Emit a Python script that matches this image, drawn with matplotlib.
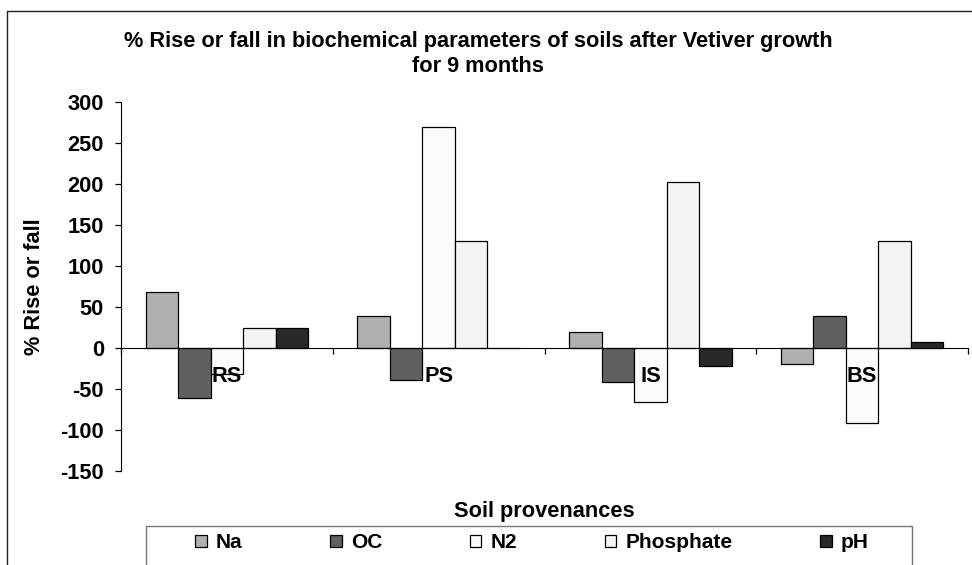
import matplotlib

matplotlib.use("Agg")
import matplotlib.pyplot as plt
import numpy as np
from matplotlib.lines import Line2D

plt.rcParams["font.family"] = ["Liberation Sans", "DejaVu Sans"]
plt.rcParams["font.weight"] = "bold"
plt.rcParams["axes.unicode_minus"] = False

# values (% rise or fall per soil)
groups = ["RS", "PS", "IS", "BS"]
series = ["Na", "OC", "N2", "Phosphate", "pH"]
na = [68, 39, 20, -20]
oc = [-61, -39, -42, 39]
n2 = [-32, 270, -66, -91]
phosphate = [24, 130, 202, 130]
ph = [24, 0, -22, 7]
yticks = [-150, -100, -50, 0, 50, 100, 150, 200, 250, 300]

colors = ["#b0b0b0", "#606060", "#fcfcfc", "#f4f4f4", "#282828"]
FS = 15.7

W, H = 972, 565
fig = plt.figure(figsize=(W / 100, H / 100), dpi=100)
ax = fig.add_axes([121 / W, 1 - 471 / H, (968 - 121) / W, (471 - 102) / H])

x = np.arange(len(groups)) + 0.5  # group centres, groups span [i, i+1]
bw = 0.1535
for k, (name, vals, c) in enumerate(zip(series, [na, oc, n2, phosphate, ph], colors)):
    off = (k - 2) * bw
    ax.bar(x + off, vals, bw, color=c, edgecolor="black", linewidth=0.9, label=name)

ax.set_xlim(0, len(groups))
ax.set_ylim(-150, 300)
ax.set_yticks(yticks)
ax.tick_params(axis="y", length=4.3, width=0.9, pad=8, labelsize=FS)
ax.set_ylabel("% Rise or fall", fontsize=FS, fontweight="bold", labelpad=11)

# x axis sits on zero; boundary ticks point down, names sit under the line
ax.spines["bottom"].set_position(("data", 0))
ax.spines["top"].set_visible(False)
ax.spines["right"].set_visible(False)
ax.set_xticks(np.arange(len(groups) + 1))
ax.set_xticklabels([])
ax.tick_params(axis="x", which="major", length=4, width=0.9, direction="out")
ax.set_xticks(x, minor=True)
ax.set_xticklabels(groups, minor=True, fontsize=FS, fontweight="bold")
ax.tick_params(axis="x", which="minor", length=0, pad=13)

fig.text(478 / W, 1 - 41 / H, "% Rise or fall in biochemical parameters of soils after Vetiver growth",
         ha="center", va="center", fontsize=FS, fontweight="bold")
fig.text(478 / W, 1 - 66 / H, "for 9 months", ha="center", va="center", fontsize=FS, fontweight="bold")
fig.text(544 / W, 1 - 512 / H, "Soil provenances", ha="center", va="center", fontsize=FS, fontweight="bold")

leg = fig.legend(loc="center", bbox_to_anchor=(532 / W, 1 - 543 / H), ncol=5, frameon=False,
                 fontsize=15, handlelength=0.55, handleheight=0.55, handletextpad=0.45,
                 columnspacing=4.2, borderpad=0)

# chart frame (open at right and bottom) and legend box
fig.add_artist(Line2D([7 / W, 7 / W, 1], [0, 1 - 11 / H, 1 - 11 / H], color="#222222", lw=1.0,
                      transform=fig.transFigure))
fig.add_artist(Line2D([146 / W, 146 / W, 912 / W, 912 / W], [0, 1 - 526 / H, 1 - 526 / H, 0],
                      color="#777777", lw=1.0, transform=fig.transFigure))

fig.savefig("out.png", dpi=100)
